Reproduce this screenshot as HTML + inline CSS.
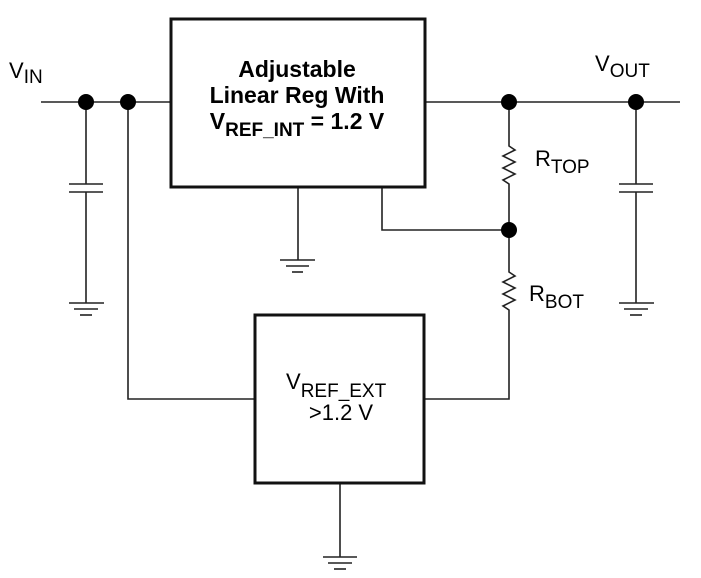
<!DOCTYPE html>
<html><head><style>body{margin:0;background:#fff}svg{display:block}</style></head><body>
<svg width="701" height="578" viewBox="0 0 701 578" xmlns="http://www.w3.org/2000/svg" font-family="Liberation Sans, sans-serif">
<g stroke="#222" stroke-width="1.6" fill="none">
<line x1="41" y1="102" x2="171" y2="102"/>
<line x1="425" y1="102" x2="680" y2="102"/>
<line x1="86" y1="102" x2="86" y2="184"/>
<line x1="69" y1="184" x2="103" y2="184"/>
<line x1="69" y1="192" x2="103" y2="192"/>
<line x1="86" y1="192" x2="86" y2="303"/>
<line x1="69" y1="303" x2="104" y2="303"/>
<line x1="74" y1="309" x2="98" y2="309"/>
<line x1="80" y1="315" x2="92" y2="315"/>
<polyline points="128,102 128,399 255,399"/>
<line x1="298" y1="188" x2="298" y2="260"/>
<line x1="280" y1="260" x2="315" y2="260"/>
<line x1="286" y1="266" x2="309" y2="266"/>
<line x1="292" y1="272" x2="303" y2="272"/>
<polyline points="382,188 382,230 509,230"/>
<polyline points="509,102 509,146 515,150 503,156 515,162 503,168 515,174 503,180 509,184 509,272 515,276 503,282 515,288 503,294 515,300 503,306 509,310 509,399 425,399"/>
<line x1="636" y1="102" x2="636" y2="184"/>
<line x1="619" y1="184" x2="653" y2="184"/>
<line x1="619" y1="192" x2="653" y2="192"/>
<line x1="636" y1="192" x2="636" y2="303"/>
<line x1="619" y1="303" x2="654" y2="303"/>
<line x1="624" y1="309" x2="648" y2="309"/>
<line x1="630" y1="315" x2="642" y2="315"/>
<line x1="340" y1="483" x2="340" y2="557"/>
<line x1="323" y1="557" x2="357" y2="557"/>
<line x1="328" y1="563" x2="352" y2="563"/>
<line x1="334" y1="569" x2="346" y2="569"/>
</g>
<rect x="171" y="19" width="254" height="168" fill="#fff" stroke="#111" stroke-width="3"/>
<rect x="255" y="315" width="169" height="168" fill="#fff" stroke="#111" stroke-width="3"/>
<g fill="#000">
<circle cx="86" cy="102" r="8"/><circle cx="128" cy="102" r="8"/>
<circle cx="509" cy="102" r="8"/><circle cx="636" cy="102" r="8"/>
<circle cx="509" cy="230" r="8"/>
</g>
<g fill="#000" font-size="22">
<text x="9" y="78">V<tspan font-size="19" dy="5">IN</tspan></text>
<text x="595" y="71">V<tspan font-size="19" dy="6">OUT</tspan></text>
<text x="535" y="166">R<tspan font-size="19" dy="7">TOP</tspan></text>
<text x="529" y="301">R<tspan font-size="19" dy="7">BOT</tspan></text>
<text x="286" y="389">V<tspan font-size="19" dy="8">REF_EXT</tspan></text>
<text x="341" y="420" text-anchor="middle">&gt;1.2 V</text>
<g font-weight="bold" text-anchor="middle" font-size="23">
<text x="297" y="77">Adjustable</text>
<text x="297" y="103">Linear Reg With</text>
<text x="297" y="129">V<tspan font-size="19" dy="7">REF_INT</tspan><tspan dy="-7"> = 1.2 V</tspan></text>
</g>
</g>
</svg>
</body></html>
